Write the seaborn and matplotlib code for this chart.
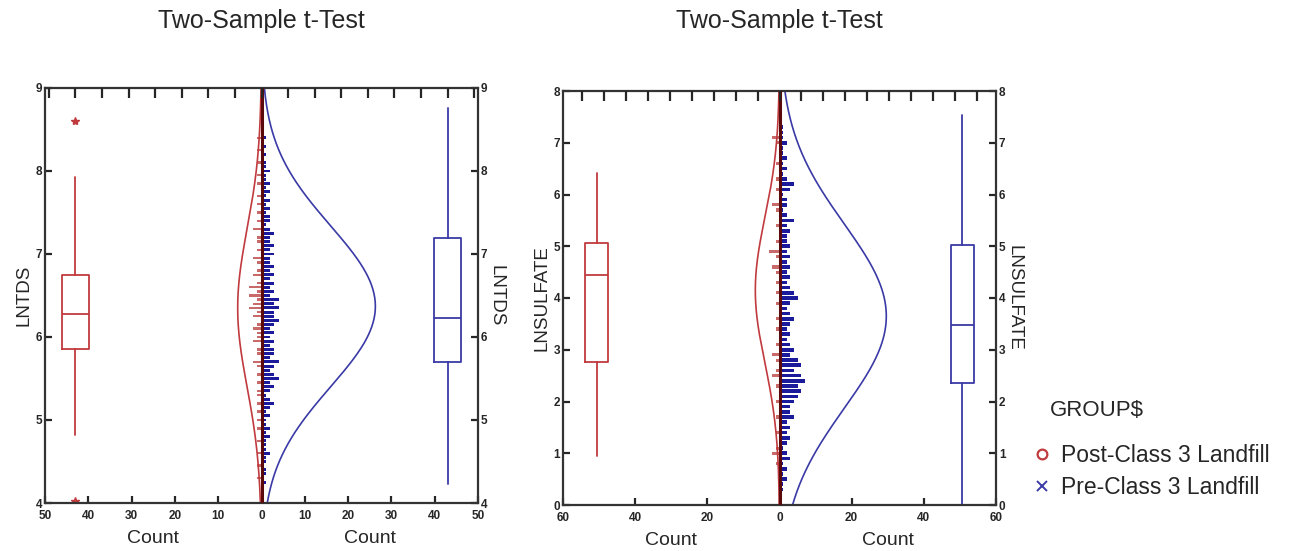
import numpy as np
import pandas as pd
import seaborn as sns
from matplotlib import pyplot as plt
from matplotlib.lines import Line2D
from matplotlib.ticker import FuncFormatter

# ---- data ----
groups = ["Post-Class 3 Landfill", "Pre-Class 3 Landfill"]
red = "#c03a3e"
blue = "#3a3aa6"

# left panel: LNTDS
tds_bins = np.round(np.arange(4.25, 8.451, 0.05), 2)
tds_pre_counts = [1, 0, 1, 1, 0, 1, 1, 2, 1, 1,
                  1, 2, 1, 2, 1, 1,
                  2, 1, 2, 3, 2, 1, 2, 3, 2, 4,
                  3, 2, 3, 4, 2, 3, 3, 2, 3, 2,
                  3, 2, 3, 4, 3, 3, 4, 3, 4, 2,
                  3, 2, 3, 2, 3, 2, 3, 2, 2, 3,
                  2, 3, 2, 2, 3, 2, 1, 2, 2, 1,
                  2, 1, 2, 1, 2, 1, 2, 1, 1, 2,
                  1, 1, 0, 1, 0, 1, 0, 1, 0]
tds_post_counts = [0, 1, 0, 0, 1, 0, 0, 1, 0, 0,
                   1, 0, 0, 1, 0, 1,
                   0, 1, 0, 1, 0, 1, 1, 0, 1, 0,
                   1, 0, 1, 2, 0, 1, 1, 0, 2, 1,
                   1, 2, 1, 0, 2, 1, 3, 2, 1, 3,
                   1, 3, 1, 0, 2, 1, 0, 1, 2, 0,
                   1, 0, 1, 1, 0, 2, 0, 1, 0, 1,
                   0, 1, 0, 1, 0, 0, 1, 0, 1, 0,
                   0, 1, 0, 0, 1, 0, 0, 1, 0]
# normal curve fits: mean, sd, peak count
tds_post_fit = (6.35, 0.95, 5.5)
tds_pre_fit = (6.37, 0.97, 26.3)
# boxes: whislo, q1, med, q3, whishi, outliers
tds_post_box = (4.82, 5.85, 6.28, 6.75, 7.93, [8.6, 4.03])
tds_pre_box = (4.23, 5.70, 6.23, 7.19, 8.76, [])

# right panel: LNSULFATE
sulf_bins = np.round(np.arange(0.3, 7.301, 0.1), 2)
sulf_pre_counts = [1, 1, 2, 1, 2, 1, 3, 2, 1, 2,
                   3, 2, 3, 2, 4, 3, 3, 4, 5, 6,
                   5, 7, 6, 4, 6, 5, 3, 4, 3, 2,
                   3, 2, 3, 4, 3, 2, 3, 5, 4, 3,
                   2, 3, 2, 3, 2, 3, 2, 3, 2, 2,
                   3, 2, 4, 2, 1, 2, 2, 1, 3, 4,
                   2, 1, 2, 1, 2, 1, 1, 2, 1, 1,
                   1]
sulf_post_counts = [0, 0, 0, 0, 0, 1, 0, 2, 1, 0,
                    0, 1, 0, 0, 1, 0, 0, 1, 0, 0,
                    1, 0, 2, 1, 0, 1, 2, 0, 1, 0,
                    0, 1, 0, 1, 0, 0, 1, 0, 1, 0,
                    1, 0, 1, 2, 0, 1, 3, 0, 1, 0,
                    0, 1, 0, 0, 1, 2, 0, 0, 1, 0,
                    1, 0, 0, 1, 0, 0, 0, 1, 2, 0,
                    0]
sulf_post_fit = (4.15, 1.40, 6.7)
sulf_pre_fit = (3.65, 1.78, 29.6)
sulf_post_box = (0.95, 2.77, 4.45, 5.06, 6.41, [])
sulf_pre_box = (0.0, 2.36, 3.48, 5.02, 7.53, [])

panels = [
    dict(var="LNTDS", ylim=(4, 9), xlim=50, xstep=10, topstep=6.14, boxpos=43,
         bins=tds_bins, bw=0.05, post=tds_post_counts, pre=tds_pre_counts,
         post_fit=tds_post_fit, pre_fit=tds_pre_fit,
         post_box=tds_post_box, pre_box=tds_pre_box,
         rect=[45 / 1299, 1 - 503 / 551, 433 / 1299, 415 / 551]),
    dict(var="LNSULFATE", ylim=(0, 8), xlim=60, xstep=20, topstep=6.07, boxpos=50.7,
         bins=sulf_bins, bw=0.1, post=sulf_post_counts, pre=sulf_pre_counts,
         post_fit=sulf_post_fit, pre_fit=sulf_pre_fit,
         post_box=sulf_post_box, pre_box=sulf_pre_box,
         rect=[563 / 1299, 1 - 505 / 551, 433 / 1299, 414 / 551]),
]

sns.set_style("white")
plt.rcParams["font.family"] = ["Liberation Sans", "DejaVu Sans"]

fig = plt.figure(figsize=(12.99, 5.51), dpi=100)


def box_stats(vals, label):
    lo, q1, med, q3, hi, fl = vals
    return dict(label=label, whislo=lo, q1=q1, med=med, q3=q3, whishi=hi, fliers=fl)


for p in panels:
    ax = fig.add_axes(p["rect"])
    ymin, ymax = p["ylim"]

    # histogram bars (post to the left, pre to the right)
    hist = pd.DataFrame({"y": p["bins"], "post": p["post"], "pre": p["pre"]})
    ax.barh(hist["y"], -hist["post"], height=p["bw"] * 0.6, color="#c86a6a", linewidth=0)
    ax.barh(hist["y"], hist["pre"], height=p["bw"] * 0.7, color="#1a1a9a", linewidth=0)
    ax.axvline(0, color="#5a0a0a", lw=2.2, zorder=3)

    # fitted normal curves
    yy = np.linspace(ymin, ymax, 300)
    for fit, sign, col in [(p["post_fit"], -1, red), (p["pre_fit"], 1, blue)]:
        m, s, pk = fit
        curve = pd.DataFrame({"y": yy, "x": sign * pk * np.exp(-0.5 * ((yy - m) / s) ** 2)})
        sns.lineplot(data=curve, x="x", y="y", ax=ax, color=col, lw=1.2,
                     sort=False, estimator=None)

    # box plots
    for vals, pos, col in [(p["post_box"], -p["boxpos"], red), (p["pre_box"], p["boxpos"], blue)]:
        props = dict(color=col, lw=1.3)
        ax.bxp([box_stats(vals, "")], positions=[pos], widths=6.2, showcaps=False,
               boxprops=props, whiskerprops=props, medianprops=props,
               flierprops=dict(marker="*", markersize=6, markeredgecolor=col,
                               markerfacecolor=col), manage_ticks=False)

    xl = p["xlim"]
    ax.set_xlim(-xl, xl)
    ax.set_ylim(ymin, ymax)
    ax.set_xticks(np.arange(-xl, xl + 1, p["xstep"]))
    ax.xaxis.set_major_formatter(FuncFormatter(lambda v, _: f"{abs(v):.0f}"))
    ax.set_yticks(np.arange(ymin, ymax + 1, 1))
    ax.tick_params(axis="both", direction="in", length=5, width=1.6, labelsize=8.5,
                   left=True, right=True, bottom=True, labelright=True, pad=2)
    ax.tick_params(axis="x", pad=5)
    for lab in ax.get_xticklabels() + ax.get_yticklabels():
        lab.set_fontweight("bold")
    ax.set_xlabel("")
    ax.set_ylabel(p["var"], fontsize=13.5, labelpad=2)
    ax.text(1.022, 0.5, p["var"], transform=ax.transAxes, rotation=270,
            fontsize=13.5, va="center", ha="left")
    ax.text(0.25, -0.065, "Count", transform=ax.transAxes, fontsize=14,
            ha="center", va="top")
    ax.text(0.75, -0.065, "Count", transform=ax.transAxes, fontsize=14,
            ha="center", va="top")
    for sp in ax.spines.values():
        sp.set_linewidth(1.6)
        sp.set_color("#333333")

    # unlabeled ticks on top edge
    top = ax.twiny()
    top.set_xlim(-xl, xl)
    n = int(xl // p["topstep"])
    top.set_xticks(np.arange(-n, n + 1) * p["topstep"])
    top.set_xticklabels([])
    top.tick_params(axis="x", direction="in", length=7, width=1.6)
    for sp in top.spines.values():
        sp.set_visible(False)

    fig.text(p["rect"][0] + p["rect"][2] / 2, 1 - 21 / 551, "Two-Sample t-Test",
             fontsize=18, ha="center", va="center")

# legend
fig.text(1050 / 1299, 1 - 410 / 551, "GROUP$", fontsize=16, ha="left", va="center")
handles = [Line2D([], [], ls="", marker="o", markersize=7, markerfacecolor="none",
                  markeredgecolor=red, markeredgewidth=1.6),
           Line2D([], [], ls="", marker="x", markersize=7, color=blue, markeredgewidth=1.4)]
fig.legend(handles, groups, loc="upper left",
           bbox_to_anchor=(1031 / 1299, 1 - 444 / 551), frameon=False,
           fontsize=16.5, handletextpad=0.3, handlelength=1.0,
           labelspacing=0.4, borderaxespad=0, borderpad=0)

fig.savefig("out.png", dpi=100)
